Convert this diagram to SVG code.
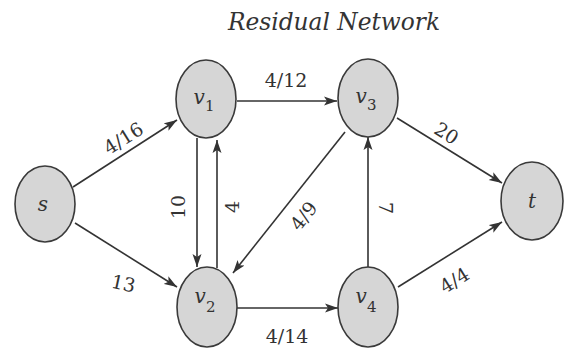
<svg xmlns="http://www.w3.org/2000/svg" width="565" height="348" viewBox="0 0 565 348">
<style>
.node{fill:#d6d6d6;stroke:#3a3a3a;stroke-width:1.6}
.edge{stroke:#333;stroke-width:1.6;fill:none}
.nl{font-family:'DejaVu Serif',serif;font-style:italic;font-size:20px;text-anchor:middle;fill:#333}
.sub{font-style:normal;font-size:15px}
.el{font-family:'DejaVu Serif',serif;font-size:19px;text-anchor:middle;fill:#333}
.title{font-family:'DejaVu Serif',serif;font-style:italic;font-size:25px;fill:#333}
</style>
<defs>
<marker id="arr" markerUnits="userSpaceOnUse" markerWidth="14" markerHeight="10" refX="13" refY="5" orient="auto">
<path d="M0,0.5 L13,5 L0,9.5 L3,5 Z" fill="#333"/>
</marker>
</defs>
<rect width="565" height="348" fill="#fff"/>
<text class="title" x="228" y="30" textLength="212" lengthAdjust="spacingAndGlyphs">Residual Network</text>
<g id="connectors">
<line class="edge" x1="73" y1="187" x2="177" y2="120" marker-end="url(#arr)"/>
<line class="edge" x1="75" y1="223" x2="177" y2="287" marker-end="url(#arr)"/>
<line class="edge" x1="237" y1="101" x2="337" y2="101" marker-end="url(#arr)"/>
<line class="edge" x1="197" y1="138" x2="197" y2="267" marker-end="url(#arr)"/>
<line class="edge" x1="217" y1="268" x2="217" y2="140" marker-end="url(#arr)"/>
<line class="edge" x1="345" y1="132" x2="233" y2="273" marker-end="url(#arr)"/>
<line class="edge" x1="397" y1="118" x2="502" y2="183" marker-end="url(#arr)"/>
<line class="edge" x1="237" y1="308" x2="338" y2="308" marker-end="url(#arr)"/>
<line class="edge" x1="368" y1="267" x2="368" y2="137" marker-end="url(#arr)"/>
<line class="edge" x1="398" y1="287" x2="502" y2="222" marker-end="url(#arr)"/>
<text class="el" transform="translate(127,144) rotate(-32)">4/16</text>
<text class="el" transform="translate(122,290) rotate(12)">13</text>
<text class="el" x="286" y="87">4/12</text>
<text class="el" transform="translate(185,207) rotate(-90)">10</text>
<text class="el" transform="translate(239,207) rotate(-90)">4</text>
<text class="el" transform="translate(309,220) rotate(-52)">4/9</text>
<text class="el" transform="translate(443,139) rotate(32)">20</text>
<text class="el" x="287" y="343">4/14</text>
<text class="el" transform="translate(379,208) rotate(90)">7</text>
<text class="el" transform="translate(458,286) rotate(-32)">4/4</text>
</g>
<g id="s"><ellipse class="node" cx="45" cy="204" rx="30" ry="38"/><text class="nl" x="43" y="211">s</text></g>
<g id="v1"><ellipse class="node" cx="206" cy="99" rx="30" ry="39"/><text class="nl" x="204" y="104">v<tspan class="sub" dy="7">1</tspan></text></g>
<g id="v3"><ellipse class="node" cx="368" cy="98" rx="30" ry="39"/><text class="nl" x="366" y="103">v<tspan class="sub" dy="7">3</tspan></text></g>
<g id="v2"><ellipse class="node" cx="207" cy="307" rx="30" ry="40"/><text class="nl" x="205" y="303">v<tspan class="sub" dy="9">2</tspan></text></g>
<g id="v4"><ellipse class="node" cx="368" cy="307" rx="30" ry="40"/><text class="nl" x="366" y="303">v<tspan class="sub" dy="9">4</tspan></text></g>
<g id="t"><ellipse class="node" cx="532" cy="201" rx="31" ry="39"/><text class="nl" x="532" y="208">t</text></g>
</svg>
